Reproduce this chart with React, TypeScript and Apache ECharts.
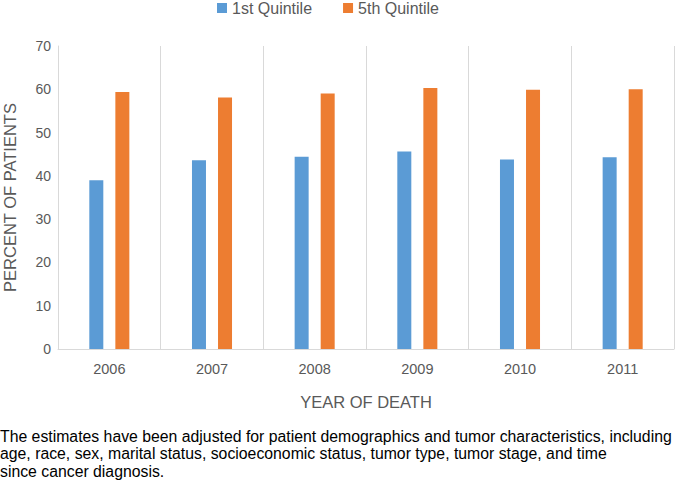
import React, { useEffect, useRef } from "react";
import * as echarts from "echarts";

const years = ["2006", "2007", "2008", "2009", "2010", "2011"];
const quintile1 = [39.0, 43.6, 44.4, 45.6, 43.8, 44.3];
const quintile5 = [59.4, 58.1, 59.0, 60.3, 59.9, 60.0];
const captionLines = [
  "The estimates have been adjusted for patient demographics and tumor characteristics, including",
  "age, race, sex, marital status, socioeconomic status, tumor type, tumor stage, and time",
  "since cancer diagnosis.",
];

const FONT = "Liberation Sans, Arial, Helvetica, sans-serif";
const GRAY = "#595959";
const LINE = "#d9d9d9";

export default function App() {
  const ref = useRef<HTMLDivElement>(null);
  useEffect(() => {
    if (!ref.current) return;
    const chart = echarts.init(ref.current, null, { renderer: "svg" });
    chart.setOption({
      animation: false,
      textStyle: { fontFamily: FONT },
      legend: {
        top: 0,
        left: 217,
        padding: 0,
        itemWidth: 10,
        itemHeight: 10,
        itemGap: 31,
        icon: "rect",
        textStyle: { fontSize: 16, color: GRAY, fontFamily: FONT },
        data: ["1st Quintile", "5th Quintile"],
      },
      grid: {
        left: 58,
        right: 1,
        top: 46,
        bottom: 131,
        containLabel: false,
        outerBoundsMode: "none",
      },
      xAxis: {
        type: "category",
        data: years,
        name: "YEAR OF DEATH",
        nameLocation: "middle",
        nameGap: 44,
        nameTextStyle: { fontSize: 16.5, color: GRAY, fontFamily: FONT },
        axisLine: { show: true, lineStyle: { color: LINE } },
        axisTick: { show: false },
        axisLabel: { fontSize: 14.5, color: GRAY, margin: 12, fontFamily: FONT },
        splitLine: { show: true, lineStyle: { color: LINE, width: 1 } },
      },
      yAxis: {
        type: "value",
        min: 0,
        max: 70,
        interval: 10,
        name: "PERCENT OF PATIENTS",
        nameLocation: "middle",
        nameGap: 40,
        nameTextStyle: { fontSize: 16.5, color: GRAY, fontFamily: FONT },
        axisLine: { show: true, lineStyle: { color: LINE } },
        axisTick: { show: false },
        axisLabel: { fontSize: 14, color: GRAY, margin: 7, fontFamily: FONT },
        splitLine: { show: false },
      },
      series: [
        {
          name: "1st Quintile",
          type: "bar",
          data: quintile1,
          barWidth: 14,
          barGap: "86%",
          itemStyle: { color: "#5B9BD5" },
        },
        {
          name: "5th Quintile",
          type: "bar",
          data: quintile5,
          barWidth: 14,
          barGap: "86%",
          itemStyle: { color: "#ED7D31" },
        },
      ],
      graphic: [
        {
          type: "text",
          left: 0,
          top: 428,
          style: {
            text: captionLines.join("\n"),
            fontSize: 15.8,
            lineHeight: 17.2,
            fill: "#000",
            fontFamily: FONT,
          },
        },
      ],
    });
    return () => chart.dispose();
  }, []);
  return (
    <div
      ref={ref}
      style={{ position: "fixed", left: 0, top: 0, width: 675, height: 480, background: "#fff" }}
    />
  );
}
